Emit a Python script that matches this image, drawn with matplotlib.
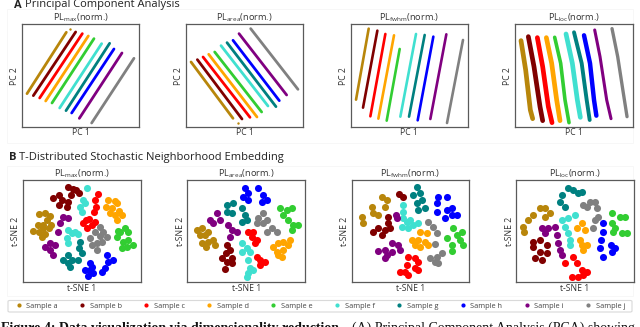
import numpy as np
import matplotlib
matplotlib.use('Agg')
import matplotlib.pyplot as plt
from matplotlib.patches import Rectangle, FancyBboxPatch

plt.rcParams['font.family'] = ['Open Sans', 'DejaVu Sans']
plt.rcParams['mathtext.default'] = 'regular'

samples = ['Sample a', 'Sample b', 'Sample c', 'Sample d', 'Sample e',
           'Sample f', 'Sample g', 'Sample h', 'Sample i', 'Sample j']
colors = ['#b8860b', '#800000', '#ff0000', '#ffa500', '#32cd32',
          '#40e0d0', '#008080', '#0000ff', '#800080', '#808080']
titles = ['PL$_{max}$(norm.)', 'PL$_{area}$(norm.)', 'PL$_{fwhm}$(norm.)', 'PL$_{loc}$(norm.)']

# PCA traces, one list of (pc1, pc2) per sample
pca_max = [[(80, 281), (198, 97)], [(99, 287), (226, 96)], [(118, 294), (246, 101)],
           [(136, 303), (264, 108)], [(155, 309), (281, 116)], [(178, 324), (304, 131)],
           [(197, 332), (328, 130)], [(214, 339), (341, 147)], [(237, 355), (365, 159)],
           [(274, 369), (401, 175)]]
pca_area = [[(573, 186), (699, 355)], [(592, 179), (726, 357)], [(609, 171), (750, 352)],
            [(626, 163), (771, 351)], [(644, 156), (785, 336)], [(663, 137), (804, 318)],
            [(681, 128), (828, 320)], [(699, 121), (838, 302)], [(717, 101), (860, 285)],
            [(752, 86), (894, 268)]]
pca_fwhm = [[(108, 299), (146, 86)], [(129, 323), (172, 92)], [(151, 349), (196, 102)],
            [(175, 356), (222, 106)], [(200, 362), (239, 147)], [(241, 350), (288, 102)],
            [(267, 350), (314, 105)], [(293, 361), (340, 110)], [(331, 357), (379, 103)],
            [(381, 369), (429, 120)]]
pca_loc = [[(603, 122), (617, 210), (631, 330), (638, 356)],
           [(625, 110), (642, 200), (660, 320), (668, 362)],
           [(652, 113), (668, 200), (685, 320), (696, 368)],
           [(679, 113), (695, 190), (710, 300), (720, 362)],
           [(704, 112), (722, 190), (735, 300), (747, 368)],
           [(738, 102), (757, 190), (772, 300), (781, 352)],
           [(762, 97), (785, 190), (800, 300), (809, 360)],
           [(792, 106), (810, 190), (822, 300), (829, 347)],
           [(824, 90), (840, 170), (860, 300), (873, 356)],
           [(876, 86), (893, 170), (910, 280), (921, 350)]]
pca_dots = [(208, 87), (715, 368), None, None]
pca_widths = [2.0, 2.0, 1.9, [3.4, 3.4, 3.4, 3.4, 2.6, 3.4, 2.8, 3.2, 2.2, 2.4]]
pca_lims = [(65, 417, 381, 73), (557, 910, 381, 73), (92, 444, 381, 73), (585, 938, 381, 73)]
pca_boxes = [(22, 24.3, 117.3), (185.7, 24.3, 117.6), (350.7, 24.3, 117.3), (515, 24.3, 117.7)]

# t-SNE clusters, one list of (tsne1, tsne2) per sample
tsne_max = [[(118, 208), (135, 205), (150, 212), (140, 225), (152, 240), (130, 240), (100, 258), (115, 240), (128, 248), (118, 262), (135, 268), (125, 275), (148, 250)],
            [(160, 158), (178, 150), (185, 165), (178, 180), (205, 125), (218, 132), (212, 150), (205, 170), (228, 135), (238, 145), (200, 185)],
            [(295, 148), (285, 165), (288, 185), (283, 200), (258, 225), (250, 235), (268, 222), (275, 240), (262, 250), (285, 232)],
            [(325, 165), (345, 168), (318, 185), (335, 190), (350, 175), (330, 205), (345, 210), (365, 210), (350, 225), (358, 198)],
            [(355, 258), (375, 250), (385, 262), (350, 275), (370, 290), (385, 285), (400, 300), (380, 305), (365, 310), (360, 260)],
            [(262, 130), (250, 165), (240, 185), (255, 175), (245, 200), (205, 255), (215, 265), (200, 280), (205, 295), (225, 260), (235, 268)],
            [(240, 290), (238, 310), (245, 325), (235, 345), (205, 330), (190, 345), (205, 355), (215, 345), (210, 365)],
            [(322, 330), (325, 350), (340, 345), (315, 370), (305, 380), (270, 355), (255, 375), (270, 375), (265, 392), (280, 385), (275, 365)],
            [(190, 215), (205, 220), (180, 235), (175, 260), (150, 295), (135, 305), (165, 300), (150, 315), (158, 330)],
            [(300, 245), (285, 260), (310, 262), (270, 280), (320, 275), (275, 300), (290, 295), (305, 290), (290, 315), (300, 272)]]
tsne_area = [[(590, 255), (605, 250), (600, 270), (615, 270), (625, 262), (605, 295), (625, 290), (640, 285), (618, 305), (645, 300)],
             [(680, 300), (690, 315), (678, 325), (695, 340), (665, 340), (680, 350), (695, 355), (675, 372)],
             [(745, 262), (760, 260), (755, 275), (770, 285), (765, 295), (780, 345), (795, 350), (780, 360), (770, 335)],
             [(835, 295), (850, 290), (870, 285), (820, 305), (830, 320), (850, 315), (865, 300), (845, 335), (835, 330)],
             [(840, 190), (860, 195), (875, 190), (850, 210), (865, 225), (880, 240), (895, 240), (875, 255)],
             [(725, 295), (740, 310), (750, 320), (725, 320), (745, 345), (750, 370), (745, 385), (760, 375), (740, 395)],
             [(680, 180), (700, 175), (725, 190), (680, 200), (695, 205), (735, 210), (725, 230), (740, 225)],
             [(735, 130), (745, 145), (730, 155), (745, 165), (775, 130), (790, 150), (785, 170), (800, 165)],
             [(630, 225), (650, 205), (660, 225), (640, 235), (685, 240), (695, 255), (690, 275), (710, 260)],
             [(790, 205), (775, 220), (800, 225), (790, 235), (815, 250), (800, 260), (830, 260), (770, 235)]]
tsne_fwhm = [[(125, 215), (130, 235), (155, 185), (160, 205), (175, 210), (185, 155), (200, 165), (195, 185)],
             [(238, 148), (248, 157), (205, 215), (205, 235), (210, 250), (160, 260), (175, 250), (185, 270), (195, 255)],
             [(265, 335), (285, 340), (295, 350), (260, 360), (255, 380), (240, 382), (285, 370), (265, 390), (295, 375)],
             [(300, 260), (320, 265), (275, 285), (295, 285), (315, 290), (300, 305), (325, 300), (285, 300)],
             [(400, 250), (425, 260), (380, 280), (420, 285), (395, 300), (430, 300), (395, 318), (410, 270)],
             [(248, 180), (250, 200), (248, 220), (260, 230), (245, 245), (265, 250), (280, 240), (295, 235), (270, 225)],
             [(290, 125), (280, 150), (300, 145), (290, 175), (305, 165), (295, 195), (315, 190)],
             [(355, 155), (380, 155), (350, 175), (350, 200), (380, 195), (395, 190), (375, 220), (395, 210), (410, 210)],
             [(228, 210), (230, 220), (175, 318), (195, 315), (200, 330), (215, 295), (235, 300), (240, 315), (215, 320), (195, 340)],
             [(325, 232), (340, 245), (350, 265), (345, 298), (330, 340), (350, 335), (365, 325), (345, 350), (355, 355)]]
tsne_loc = [[(610, 245), (612, 260), (625, 225), (640, 210), (660, 190), (675, 190), (690, 205), (675, 215)],
            [(640, 290), (660, 285), (680, 300), (640, 305), (660, 320), (680, 325), (645, 340), (665, 345)],
            [(760, 335), (770, 355), (735, 355), (785, 375), (800, 380), (755, 395), (775, 395), (790, 390)],
            [(785, 235), (770, 250), (795, 255), (780, 285), (785, 300), (800, 300), (790, 315)],
            [(875, 205), (900, 215), (915, 215), (875, 235), (885, 250), (880, 260), (905, 265), (920, 265)],
            [(725, 225), (745, 220), (765, 210), (735, 245), (745, 265), (750, 285), (750, 300)],
            [(745, 130), (725, 150), (720, 170), (735, 185), (760, 135), (775, 145), (785, 140)],
            [(848, 235), (848, 260), (842, 285), (840, 310), (850, 335), (872, 300), (885, 310), (875, 320)],
            [(665, 250), (685, 250), (705, 245), (675, 265), (710, 270), (715, 295), (720, 315), (725, 330)],
            [(790, 180), (810, 170), (825, 170), (830, 190), (835, 215), (825, 225), (820, 250), (800, 185)]]
tsne_lims = [(69, 422, 412, 105), (562, 915, 412, 105), (95, 448, 412, 105), (589, 941, 412, 105)]
tsne_boxes = [(23, 180, 117.7), (187.3, 180, 117.7), (351.7, 180, 117.6), (516.3, 180, 117.4)]

W, H = 640, 327
fig = plt.figure(figsize=(W / 100, H / 100), dpi=100)


def make_axes(box, height, lims, title, xlabel, ylabel):
    x, y, w = box
    ax = fig.add_axes([x / W, 1 - (y + height) / H, w / W, height / H])
    ax.set_xlim(lims[0], lims[1])
    ax.set_ylim(lims[2], lims[3])
    ax.set_xticks([])
    ax.set_yticks([])
    for s in ax.spines.values():
        s.set_color('#5a5a5a')
        s.set_linewidth(0.9)
    ax.set_title(title, fontsize=6.6, color='#333333', pad=0.5)
    ax.set_xlabel(xlabel, fontsize=6.2, color='#333333', labelpad=1)
    ax.set_ylabel(ylabel, fontsize=6.2, color='#333333', labelpad=2)
    return ax


# faint panel backgrounds
fig.add_artist(Rectangle((7 / W, 1 - 143 / H), 626 / W, 134 / H, transform=fig.transFigure,
                         fc='white', ec='#f6f6f6', lw=0.6, zorder=-1))
fig.add_artist(Rectangle((7 / W, 1 - 296 / H), 626 / W, 130 / H, transform=fig.transFigure,
                         fc='white', ec='#f6f6f6', lw=0.6, zorder=-1))

for i, traces in enumerate([pca_max, pca_area, pca_fwhm, pca_loc]):
    ax = make_axes(pca_boxes[i], 102.7, pca_lims[i], titles[i], 'PC 1', 'PC 2')
    for j, trace in enumerate(traces):
        lw = pca_widths[i][j] if isinstance(pca_widths[i], list) else pca_widths[i]
        xs = [p[0] for p in trace]
        ys = [p[1] for p in trace]
        ax.plot(xs, ys, color=colors[j], lw=lw, solid_capstyle='round')
    if pca_dots[i] is not None:
        ax.scatter(pca_dots[i][0], pca_dots[i][1], s=3, color=colors[0], linewidths=0)

for i, clusters in enumerate([tsne_max, tsne_area, tsne_fwhm, tsne_loc]):
    ax = make_axes(tsne_boxes[i], 102.3, tsne_lims[i], titles[i], 't-SNE 1', 't-SNE 2')
    for j, cluster in enumerate(clusters):
        pts = np.array(cluster)
        ax.scatter(pts[:, 0], pts[:, 1], s=26, color=colors[j], linewidths=0)

# section headings
fig.text(14 / W, 1 - 5 / H, 'A', fontsize=8.0, fontweight='bold', color='#222222', va='center')
fig.text(25 / W, 1 - 5 / H, 'Principal Component Analysis', fontsize=8.0, color='#222222', va='center')
fig.text(8.5 / W, 1 - 157.5 / H, 'B', fontsize=8.0, fontweight='bold', color='#222222', va='center')
fig.text(19 / W, 1 - 157.5 / H, 'T-Distributed Stochastic Neighborhood Embedding', fontsize=8.0,
         color='#222222', va='center')

# legend strip
fig.add_artist(FancyBboxPatch((8 / W, 1 - 312 / H), 624 / W, 11.5 / H, transform=fig.transFigure,
                              boxstyle='round,pad=0,rounding_size=0.003', fc='white', ec='#d9d9d9', lw=0.8, zorder=-1))
handles = [plt.Line2D([], [], ls='', marker='o', ms=2.0, color=c) for c in colors]
fig.legend(handles, samples, ncol=10, frameon=False, fontsize=5.3, labelcolor='#444444',
           loc='center', bbox_to_anchor=(320 / W, 1 - 306.3 / H), handletextpad=0.55,
           columnspacing=2.8, handlelength=1.0, borderpad=0, borderaxespad=0)

# caption, cut off by the bottom of the image as in the source
fig.text(1 / W, 1 - 322 / H, 'Figure 4: Data visualization via dimensionality reduction.',
         family=['Liberation Serif', 'DejaVu Serif'], fontweight='bold', fontsize=10, color='#111111', va='top')
fig.text(352 / W, 1 - 322 / H, '(A) Principal Component Analysis (PCA) showing',
         family=['Liberation Serif', 'DejaVu Serif'], fontsize=10, color='#111111', va='top')

plt.savefig('out.png', dpi=100)
